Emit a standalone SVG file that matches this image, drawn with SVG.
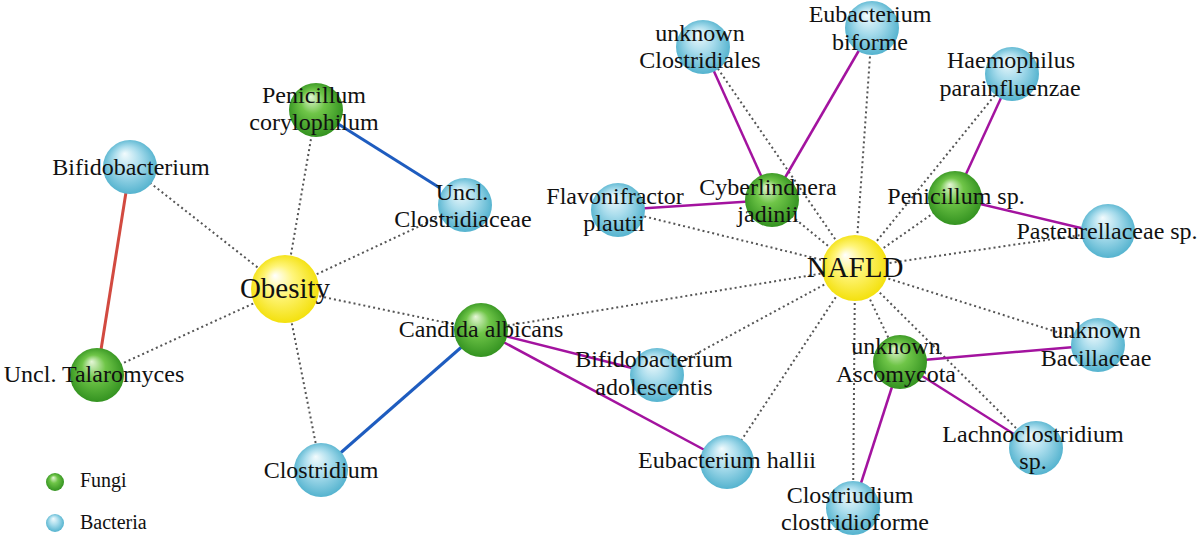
<svg xmlns="http://www.w3.org/2000/svg" width="1200" height="537" viewBox="0 0 1200 537" font-family="'Liberation Serif', 'DejaVu Serif', serif">
<defs>
<radialGradient id="gB" cx="0.5" cy="0.5" r="0.55" fx="0.4" fy="0.25">
<stop offset="0" stop-color="#f2fbfd"/><stop offset="0.45" stop-color="#a8dcec"/><stop offset="1" stop-color="#4aaecb"/>
</radialGradient>
<radialGradient id="gF" cx="0.5" cy="0.5" r="0.55" fx="0.4" fy="0.25">
<stop offset="0" stop-color="#e6f7d8"/><stop offset="0.4" stop-color="#6fc548"/><stop offset="1" stop-color="#2d8d1c"/>
</radialGradient>
<radialGradient id="gY" cx="0.5" cy="0.5" r="0.55" fx="0.35" fy="0.3">
<stop offset="0" stop-color="#ffffff"/><stop offset="0.4" stop-color="#fff57a"/><stop offset="1" stop-color="#f2de00"/>
</radialGradient>
<style>
.dot{stroke:#555;stroke-width:2;stroke-dasharray:2 3;fill:none}
.mg{stroke:#a3139f;stroke-width:2.5;fill:none}
.bl{stroke:#1e5cbf;stroke-width:3;fill:none}
.rd{stroke:#d24a40;stroke-width:3;fill:none}
.b{fill:url(#gB)}
.f{fill:url(#gF)}
.y{fill:url(#gY)}
text{font-family:'Liberation Serif', 'DejaVu Serif', serif;font-size:24px;fill:#111;text-anchor:middle}
.big{font-size:29px}
.leg{font-size:20px;text-anchor:start}
</style>
</defs>
<rect width="1200" height="537" fill="#ffffff"/>
<g id="connectors">
<line class="dot" x1="285" y1="289" x2="130" y2="167"/>
<line class="dot" x1="285" y1="289" x2="316" y2="110"/>
<line class="dot" x1="285" y1="289" x2="465" y2="205"/>
<line class="dot" x1="285" y1="289" x2="481" y2="330"/>
<line class="dot" x1="285" y1="289" x2="321" y2="470"/>
<line class="dot" x1="285" y1="289" x2="97" y2="375"/>
<line class="dot" x1="855" y1="268" x2="703" y2="47"/>
<line class="dot" x1="855" y1="268" x2="772" y2="200"/>
<line class="dot" x1="855" y1="268" x2="872" y2="28"/>
<line class="dot" x1="855" y1="268" x2="1012" y2="74"/>
<line class="dot" x1="855" y1="268" x2="955" y2="198"/>
<line class="dot" x1="855" y1="268" x2="1108" y2="231"/>
<line class="dot" x1="855" y1="268" x2="1098" y2="345"/>
<line class="dot" x1="855" y1="268" x2="1036" y2="448"/>
<line class="dot" x1="855" y1="268" x2="900" y2="362"/>
<line class="dot" x1="855" y1="268" x2="853" y2="508"/>
<line class="dot" x1="855" y1="268" x2="727" y2="462"/>
<line class="dot" x1="855" y1="268" x2="657" y2="375"/>
<line class="dot" x1="855" y1="268" x2="481" y2="330"/>
<line class="dot" x1="855" y1="268" x2="618" y2="210"/>
<line class="rd" x1="130" y1="167" x2="97" y2="375"/>
<line class="bl" x1="316" y1="110" x2="440" y2="188"/>
<line class="bl" x1="481" y1="330" x2="321" y2="470"/>
<line class="mg" x1="481" y1="330" x2="632" y2="368"/>
<line class="mg" x1="481" y1="330" x2="727" y2="462"/>
<line class="mg" x1="772" y1="200" x2="703" y2="47"/>
<line class="mg" x1="772" y1="200" x2="872" y2="28"/>
<line class="mg" x1="772" y1="200" x2="618" y2="210"/>
<line class="mg" x1="955" y1="198" x2="1012" y2="74"/>
<line class="mg" x1="955" y1="198" x2="1085" y2="229"/>
<line class="mg" x1="900" y1="362" x2="1098" y2="345"/>
<line class="mg" x1="900" y1="362" x2="1036" y2="448"/>
<line class="mg" x1="900" y1="362" x2="853" y2="508"/>
</g>
<g id="node-bifidobacterium"><circle class="b" cx="130" cy="167" r="27"/><text x="131" y="175">Bifidobacterium</text></g>
<g id="node-uncl-talaromyces"><circle class="f" cx="97" cy="375" r="27"/><text x="94" y="382">Uncl. Talaromyces</text></g>
<g id="node-penicillum-corylophilum"><circle class="f" cx="316" cy="110" r="27"/><text x="314" y="103">Penicillum</text><text x="314" y="130">corylophilum</text></g>
<g id="node-obesity"><circle class="y" cx="285" cy="289" r="34"/><text class="big" x="285" y="298">Obesity</text></g>
<g id="node-clostridium"><circle class="b" cx="321" cy="470" r="27"/><text x="321" y="478">Clostridium</text></g>
<g id="node-uncl-clostridiaceae"><circle class="b" cx="465" cy="205" r="27"/><text x="462" y="200">Uncl.</text><text x="463" y="227">Clostridiaceae</text></g>
<g id="node-flavonifractor"><circle class="b" cx="618" cy="210" r="27"/><text x="615" y="204">Flavonifractor</text><text x="614" y="231">plautii</text></g>
<g id="node-cyberlindnera"><circle class="f" cx="772" cy="200" r="27"/><text x="768" y="195">Cyberlindnera</text><text x="768" y="222">jadinii</text></g>
<g id="node-unknown-clostridiales"><circle class="b" cx="703" cy="47" r="27"/><text x="700" y="41">unknown</text><text x="700" y="68">Clostridiales</text></g>
<g id="node-eubacterium-biforme"><circle class="b" cx="872" cy="28" r="27"/><text x="870" y="22">Eubacterium</text><text x="870" y="50">biforme</text></g>
<g id="node-haemophilus"><circle class="b" cx="1012" cy="74" r="27"/><text x="1011" y="68">Haemophilus</text><text x="1010" y="96">parainfluenzae</text></g>
<g id="node-penicillum-sp"><circle class="f" cx="955" cy="198" r="27"/><text x="956" y="204">Penicillum sp.</text></g>
<g id="node-pasteurellaceae"><circle class="b" cx="1108" cy="231" r="27"/><text x="1107" y="239">Pasteurellaceae sp.</text></g>
<g id="node-nafld"><circle class="y" cx="855" cy="268" r="33"/><text class="big" x="855" y="277">NAFLD</text></g>
<g id="node-candida"><circle class="f" cx="481" cy="330" r="27"/><text x="481" y="337">Candida albicans</text></g>
<g id="node-bifido-adolescentis"><circle class="b" cx="657" cy="375" r="27"/><text x="654" y="367">Bifidobacterium</text><text x="654" y="395">adolescentis</text></g>
<g id="node-eubacterium-hallii"><circle class="b" cx="727" cy="462" r="27"/><text x="727" y="468">Eubacterium hallii</text></g>
<g id="node-unknown-ascomycota"><circle class="f" cx="900" cy="362" r="27"/><text x="896" y="354">unknown</text><text x="896" y="382">Ascomycota</text></g>
<g id="node-unknown-bacillaceae"><circle class="b" cx="1098" cy="345" r="27"/><text x="1096" y="338">unknown</text><text x="1096" y="366">Bacillaceae</text></g>
<g id="node-lachnoclostridium"><circle class="b" cx="1036" cy="448" r="27"/><text x="1033" y="442">Lachnoclostridium</text><text x="1033" y="469">sp.</text></g>
<g id="node-clostridioforme"><circle class="b" cx="853" cy="508" r="27"/><text x="850" y="503">Clostriudium</text><text x="855" y="530">clostridioforme</text></g>
<g id="legend">
<circle class="f" cx="55" cy="482" r="9"/><text class="leg" x="80" y="487">Fungi</text>
<circle class="b" cx="55" cy="523" r="9"/><text class="leg" x="80" y="529">Bacteria</text>
</g>
</svg>
